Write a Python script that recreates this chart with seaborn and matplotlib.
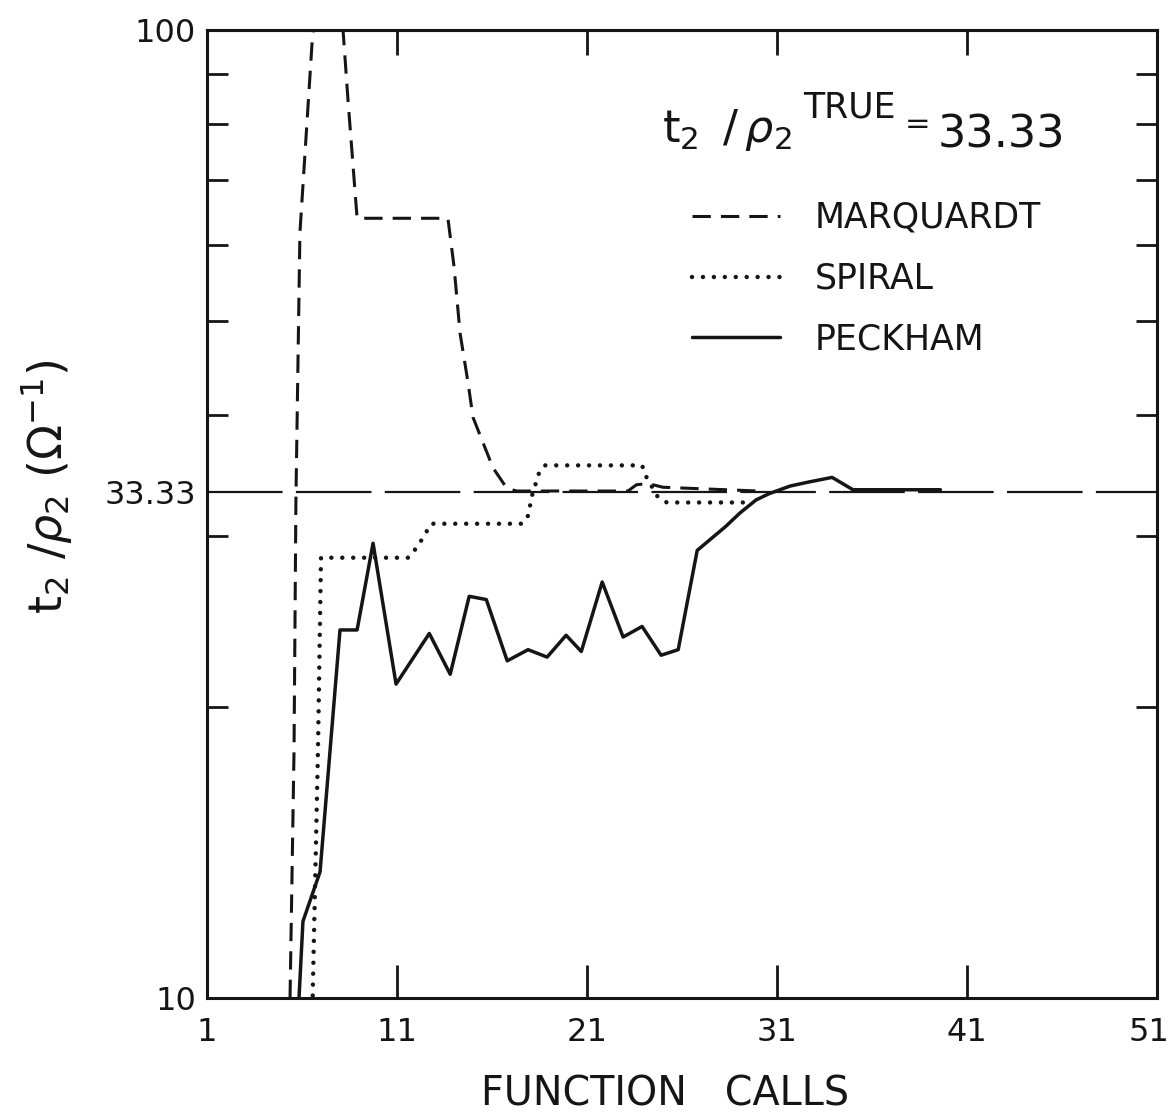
import numpy as np
import pandas as pd
import matplotlib
matplotlib.use("Agg")
import matplotlib.pyplot as plt
import matplotlib.transforms as mtransforms
import seaborn as sns
from matplotlib.ticker import FixedLocator, NullFormatter, FixedFormatter

# ---------------- data ----------------
TRUE_VALUE = 33.33

marq_calls = [5.37, 5.58, 5.68, 5.89, 6.55, 7.35, 8.16, 8.42, 8.90, 13.68, 14.0,
              14.32, 14.74, 15.0, 16.05, 16.79, 17.3, 23.16, 23.6, 24.2, 25.0, 30.0]
marq_vals = [10.0, 18.0, 32.7, 61.7, 98.4, 125.0, 100.0, 84.7, 63.9, 63.9, 57.0,
             48.6, 43.2, 39.8, 35.3, 33.6, 33.4, 33.4, 33.9, 34.0, 33.7, 33.4]

spiral_calls = [6.55, 6.84, 7.0, 11.6, 12.1, 12.5, 12.8, 17.6, 17.9, 18.1, 18.5, 18.8,
                23.9, 24.1, 24.7, 25.2, 29.7]
spiral_vals = [9.8, 18.0, 28.5, 28.5, 29.3, 30.2, 30.9, 30.9, 31.5, 33.0, 35.0, 35.5,
               35.5, 34.6, 33.0, 32.5, 32.5]

peck_calls = [5.82, 6.05, 6.95, 8.0, 8.9, 9.74, 10.95, 12.7, 13.8, 14.8, 15.7, 16.8,
              17.9, 18.9, 19.9, 20.7, 21.8, 22.9, 23.9, 24.9, 25.8, 26.8, 28.3, 29.05,
              29.9, 30.6, 31.7, 32.6, 33.9, 35.0, 39.6]
peck_vals = [9.8, 12.0, 13.5, 24.0, 24.0, 29.5, 21.1, 23.8, 21.6, 26.0, 25.8, 22.3,
             22.9, 22.5, 23.7, 22.8, 26.9, 23.6, 24.2, 22.6, 22.9, 29.0, 30.7, 31.7,
             32.7, 33.2, 33.8, 34.1, 34.5, 33.5, 33.5]

series_names = ["MARQUARDT", "SPIRAL", "PECKHAM"]
x_ticks = [1, 11, 21, 31, 41, 51]
x_ticklabels = ["1", "11", "21", "31", "41", "51"]
y_major = [10, TRUE_VALUE, 100]
y_major_labels = ["10", "33.33", "100"]
y_minor = [20, 30, 40, 50, 60, 70, 80, 90]

# ---------------- style ----------------
sns.set_theme(style="white")
plt.rcParams['font.family'] = ['DejaVu Sans']
plt.rcParams['mathtext.fontset'] = 'dejavusans'

W, H = 1172, 1119
fig = plt.figure(figsize=(W / 100, H / 100), dpi=100)
fig.patch.set_facecolor("white")
ax = fig.add_axes([207 / W, 1 - 998 / H, 950 / W, 968 / H])
ax.set_facecolor("white")
ax.set_yscale("log")

ink = "#151515"

# reference line at the true value
ax.axhline(TRUE_VALUE, color=ink, lw=1.6, dashes=(34, 6), zorder=1)

df_m = pd.DataFrame({"calls": marq_calls, "value": marq_vals})
df_s = pd.DataFrame({"calls": spiral_calls, "value": spiral_vals})
df_p = pd.DataFrame({"calls": peck_calls, "value": peck_vals})

sns.lineplot(data=df_m, x="calls", y="value", ax=ax, sort=False, estimator=None,
             color=ink, lw=2.2, linestyle=(0, (6.0, 3.3)), label=series_names[0])
sns.lineplot(data=df_s, x="calls", y="value", ax=ax, sort=False, estimator=None,
             color=ink, lw=3.2, linestyle=(0, (0.01, 2.45)), dash_capstyle="round",
             label=series_names[1])
sns.lineplot(data=df_p, x="calls", y="value", ax=ax, sort=False, estimator=None,
             color=ink, lw=2.5, label=series_names[2])

ax.set_xlim(1, 51)
ax.set_ylim(10, 100)

# ticks
ax.xaxis.set_major_locator(FixedLocator(x_ticks))
ax.xaxis.set_major_formatter(FixedFormatter(x_ticklabels))
ax.yaxis.set_major_locator(FixedLocator(y_major))
ax.yaxis.set_major_formatter(FixedFormatter(y_major_labels))
ax.yaxis.set_minor_locator(FixedLocator(y_minor))
ax.yaxis.set_minor_formatter(NullFormatter())
ax.xaxis.set_minor_locator(FixedLocator([]))

ax.tick_params(axis="x", which="major", direction="in", top=False, bottom=True,
               length=24, width=2.0, color=ink, labelsize=23, pad=14, labelcolor=ink)
ax.tick_params(axis="y", which="major", direction="in", left=True, right=True,
               length=0, labelsize=23, pad=8, labelcolor=ink)
ax.tick_params(axis="y", which="minor", direction="in", left=True, right=True,
               length=15, width=2.0, color=ink)

secax = ax.secondary_xaxis("top")
secax.xaxis.set_major_locator(FixedLocator(x_ticks))
secax.xaxis.set_minor_locator(FixedLocator([]))
secax.tick_params(axis="x", which="major", direction="in", length=18, width=2.0,
                  color=ink, labeltop=False)
for sp in secax.spines.values():
    sp.set_color(ink)
    sp.set_linewidth(2.2)

for sp in ax.spines.values():
    sp.set_visible(True)
    sp.set_color(ink)
    sp.set_linewidth(2.2)

ax.set_xlabel("")
ax.set_ylabel("")

# axis labels
fig.text(665 / W, 1 - 1094 / H, "FUNCTION   CALLS", ha="center", va="center",
         fontsize=28.5, color=ink)
fig.text(47 / W, 1 - 487 / H, r"$\mathrm{t}_2\ /\rho_2\ (\Omega^{-1})$",
         ha="center", va="center", rotation=90, fontsize=33, color=ink)

# annotation
fig.text(662 / W, 1 - 142 / H, r"$\mathrm{t}_2\ \,/\,\rho_2$",
         ha="left", va="baseline", fontsize=32, color=ink)
fig.text(803 / W, 1 - 117 / H, "TRUE", ha="left", va="baseline", fontsize=25, color=ink)
fig.text(905 / W, 1 - 125 / H, "=", ha="left", va="center", fontsize=22, color=ink)
fig.text(938 / W, 1 - 147 / H, "33.33", ha="left", va="baseline", fontsize=32, color=ink)

# legend
ax.legend(loc="upper left", bbox_to_anchor=(692 / W, 1 - 201 / H),
          bbox_transform=fig.transFigure, frameon=False, fontsize=25,
          handlelength=2.54, handletextpad=1.0, labelspacing=0.77,
          borderpad=0, borderaxespad=0, labelcolor=ink)

# keep the last x tick label inside the canvas
last = ax.get_xticklabels()[-1]
last.set_transform(last.get_transform() +
                   mtransforms.ScaledTranslation(-8 / 100, 0, fig.dpi_scale_trans))

fig.savefig("out.png", dpi=100, facecolor="white")
